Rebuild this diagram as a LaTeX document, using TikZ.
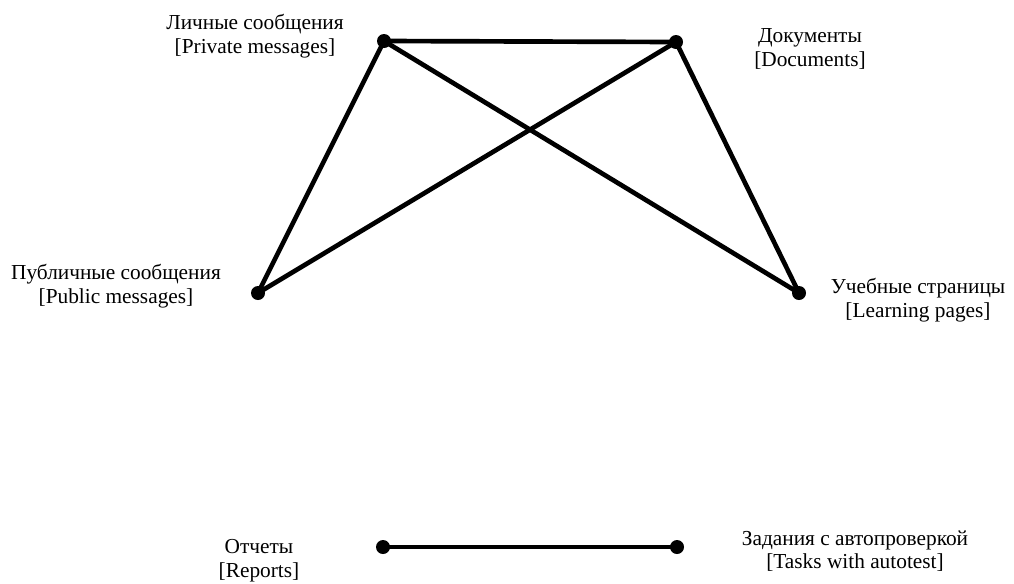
\documentclass[tikz,border=0pt]{standalone}
\usepackage{fontspec}
\setmainfont{Liberation Serif}
\begin{document}
\begin{tikzpicture}[x=0.75pt,y=-0.75pt,
  dot/.style={circle,fill=black,inner sep=0pt,minimum size=10.5pt},
  lbl/.style={align=center,font=\fontsize{16}{17.8}\selectfont,inner sep=0pt},
  edge/.style={line width=3.5pt}]
\useasboundingbox (0,0) rectangle (1014,583);
\node[dot] (priv) at (384,41) {};
\node[dot] (doc) at (676,42) {};
\node[dot] (pub) at (258,293) {};
\node[dot] (learn) at (799,293) {};
\node[dot] (rep) at (383,547) {};
\node[dot] (task) at (677,547) {};
\node[lbl] (privl) at (255,36) {Личные сообщения\\{[}Private messages{]}};
\node[lbl] (docl) at (810,49) {Документы\\{[}Documents{]}};
\node[lbl] (publ) at (116,286) {Публичные сообщения\\{[}Public messages{]}};
\node[lbl] (learnl) at (918,300) {Учебные страницы\\{[}Learning pages{]}};
\node[lbl] (repl) at (259,561) {Отчеты\\{[}Reports{]}};
\node[lbl] (taskl) at (855,551) {Задания с автопроверкой\\{[}Tasks with autotest{]}};
\draw[edge] (priv.center) -- (doc.center);
\draw[edge] (priv.center) -- (pub.center);
\draw[edge] (priv.center) -- (learn.center);
\draw[edge] (doc.center) -- (pub.center);
\draw[edge] (doc.center) -- (learn.center);
\draw[edge] (rep.center) -- (task.center);
\end{tikzpicture}
\end{document}
